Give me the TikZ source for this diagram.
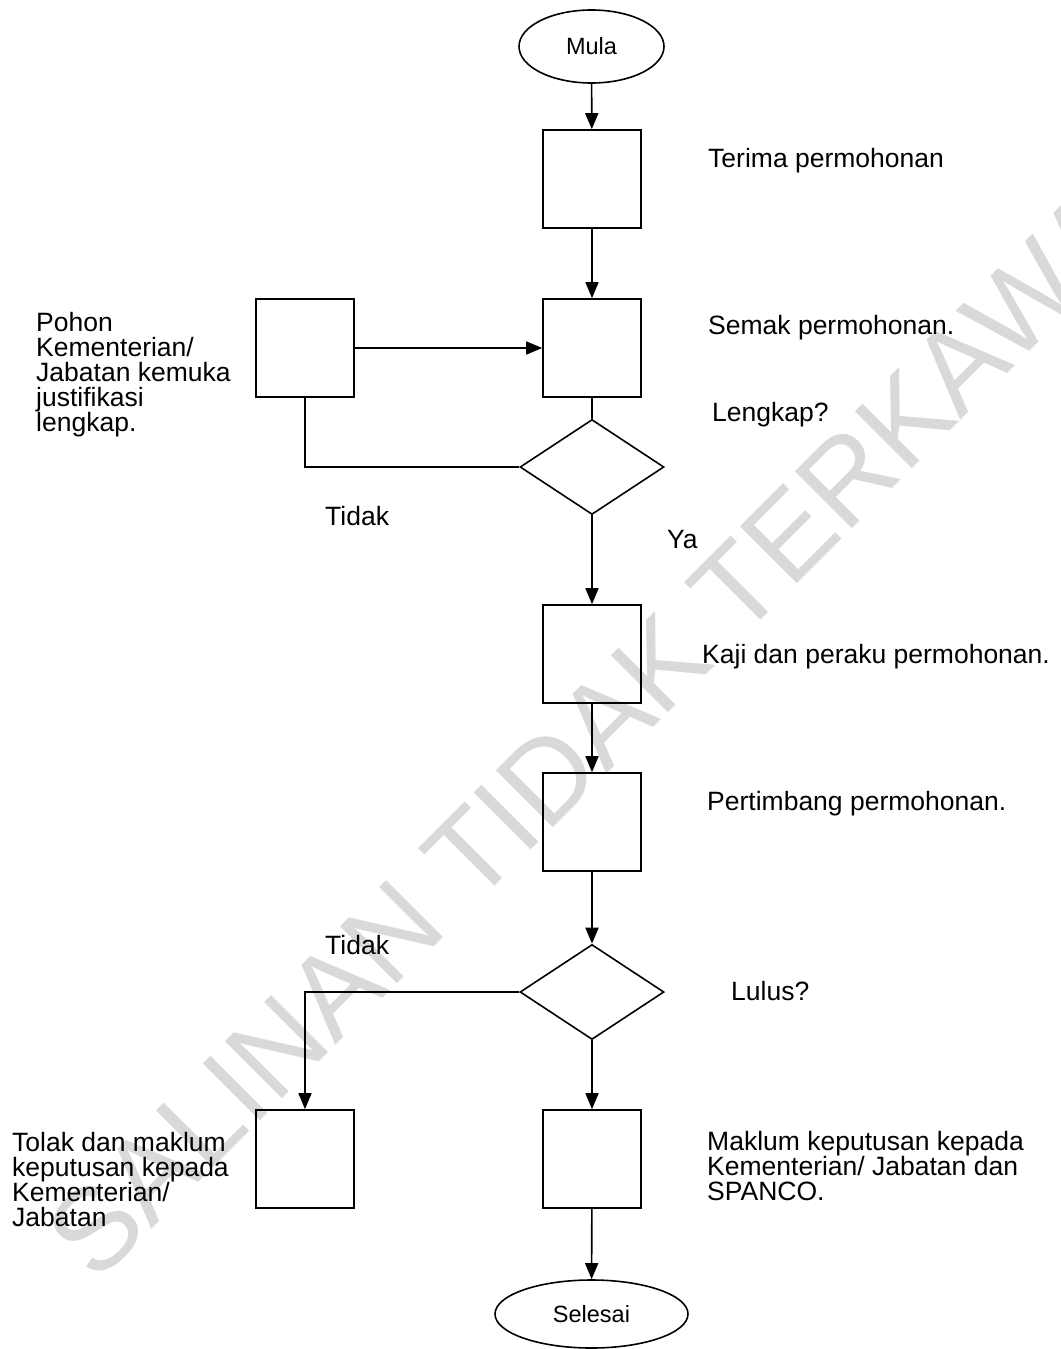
\documentclass[tikz,border=0pt]{standalone}
\usepackage{fontspec}
\setmainfont{Liberation Sans}
\usepackage{tikz}
\usetikzlibrary{shapes.geometric,arrows.meta}

\begin{document}
\begin{tikzpicture}[x=1pt, y=-1pt,
    every node/.style={font=\fontsize{26.5}{25}\selectfont},
    proses/.style={draw, line width=1.6pt, minimum size=98pt, inner sep=0pt},
    terminal/.style={draw, ellipse, line width=1.6pt, inner sep=0pt, font=\fontsize{23.5}{24}\selectfont},
    keputusan/.style={draw, diamond, line width=1.6pt, minimum width=144pt, minimum height=95pt, inner sep=0pt},
    catatan/.style={anchor=base west, inner sep=0pt, align=left},
    aliran/.style={line width=1.6pt, -{Triangle[length=16pt,width=13pt]}},
    garis/.style={line width=1.6pt}]
  \useasboundingbox (0,0) rectangle (1060,1349);

  % tera air
  \node[rotate=45, text=black!15, font=\fontsize{117}{117}\selectfont] (teraair) at (614,710) {SALINAN TIDAK TERKAWAL};

  % bentuk
  \node[terminal, minimum width=145pt, minimum height=73pt] (mula) at (591.5,46.5) {Mula};
  \node[proses] (terima) at (592,179) {};
  \node[proses] (semak) at (592,348) {};
  \node[proses] (pohon) at (305,348) {};
  \node[keputusan] (lengkap) at (592,467) {};
  \node[proses] (kaji) at (592,654) {};
  \node[proses] (pertimbang) at (592,822) {};
  \node[keputusan] (lulus) at (592,992) {};
  \node[proses] (tolak) at (305,1159) {};
  \node[proses] (maklum) at (592,1159) {};
  \node[terminal, minimum width=193pt, minimum height=68pt] (selesai) at (591.5,1314) {Selesai};

  % teks (baris akhir untuk teks berbilang baris)
  \node[catatan] (tterima) at (708,167) {Terima permohonan};
  \node[catatan] (tsemak) at (708,334) {Semak permohonan.};
  \node[catatan] (tlengkap) at (712,421) {Lengkap?};
  \node[catatan] (tpohon) at (36,431) {Pohon\\Kementerian/\\Jabatan kemuka\\justifikasi\\lengkap.};
  \node[catatan] (ttidak) at (325,525) {Tidak};
  \node[catatan] (tya) at (667,548) {Ya};
  \node[catatan] (tkaji) at (702,663) {Kaji dan peraku permohonan.};
  \node[catatan] (tpertimbang) at (707,810) {Pertimbang permohonan.};
  \node[catatan] (ttidakdua) at (325,954) {Tidak};
  \node[catatan] (tlulus) at (731,1000) {Lulus?};
  \node[catatan] (ttolak) at (12,1226) {Tolak dan maklum\\keputusan kepada\\Kementerian/\\Jabatan};
  \node[catatan] (tmaklum) at (707,1200) {Maklum keputusan kepada\\Kementerian/ Jabatan dan\\SPANCO.};

  % aliran
  \draw[aliran] (mula) -- (terima);
  \draw[aliran] (terima) -- (semak);
  \draw[aliran] (pohon.east) -- (semak.west);
  \draw[garis] (semak) -- (lengkap);
  \draw[garis] (lengkap.west) -| (pohon.south);
  \draw[aliran] (lengkap) -- (kaji);
  \draw[aliran] (kaji) -- (pertimbang);
  \draw[aliran] (pertimbang) -- (lulus);
  \draw[aliran] (lulus.west) -| (tolak.north);
  \draw[aliran] (lulus) -- (maklum);
  \draw[aliran] (maklum) -- (selesai);
\end{tikzpicture}
\end{document}
